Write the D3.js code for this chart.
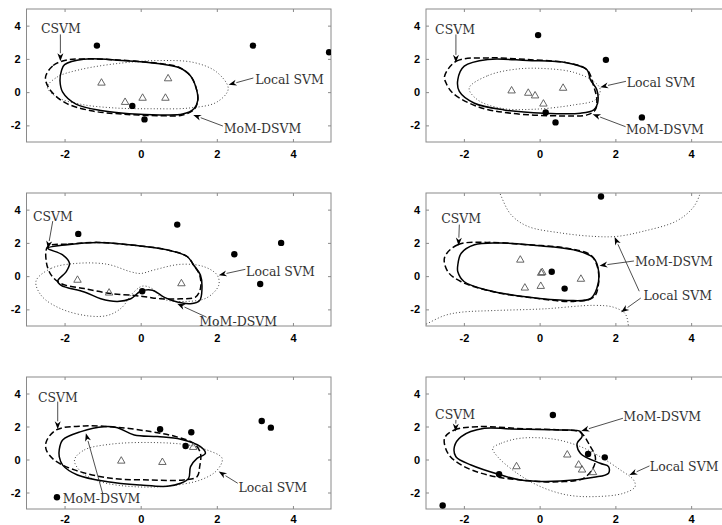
<!DOCTYPE html>
<html>
<head>
<meta charset="utf-8">
<script src="https://cdn.jsdelivr.net/npm/d3@7"></script>
<style>
  html, body { margin: 0; padding: 0; background: #fff; }
  svg { display: block; }
</style>
</head>
<body>
<svg id="chart" width="722" height="525"></svg>
<script>
// ---------------- DATA (data coordinates) ----------------
const xTicks = [-2, 0, 2, 4];
const yTicks = [-2, 0, 2, 4];
const xDomain = [-3, 5];
const yDomain = [-3, 5];

// Panel 1 (top-left)
const p1Circles = [[-1.15, 2.8], [2.95, 2.8], [4.95, 2.4], [-0.22, -0.83], [0.1, -1.64]];
const p1Triangles = [[-1.03, 0.55], [0.72, 0.81], [-0.41, -0.61], [0.05, -0.36], [0.65, -0.36]];
const p1CSVM = [[-2.5, 0.9], [-2.3, 1.6], [-2.0, 1.9], [-1.5, 2.0], [-0.5, 1.92], [0.5, 1.72], [1.0, 1.5], [1.3, 1.0], [1.45, 0.3], [1.5, -0.5], [1.4, -1.05], [1.1, -1.38], [0.5, -1.42], [-0.5, -1.32], [-1.3, -1.12], [-2.0, -0.62], [-2.4, 0.2]];
const p1MoM = [[-2.0, 1.65], [-1.5, 1.98], [-0.5, 1.9], [0.5, 1.7], [1.0, 1.48], [1.3, 1.0], [1.45, 0.3], [1.5, -0.5], [1.4, -1.0], [1.1, -1.32], [0.5, -1.37], [-0.3, -1.3], [-1.0, -1.12], [-1.7, -0.72], [-2.05, 0.0], [-2.12, 0.7], [-2.08, 1.3]];
const p1Local = [[-2.45, 0.3], [-2.2, 0.9], [-1.6, 1.35], [-0.5, 1.75], [0.5, 1.9], [1.4, 1.78], [2.0, 1.2], [2.3, 0.2], [2.0, -0.6], [1.3, -0.95], [0.3, -1.0], [-0.7, -0.95], [-1.6, -0.72], [-2.2, -0.3]];

// Panel 2 (top-right)
const p2Circles = [[-0.04, 3.43], [1.75, 1.94], [2.7, -1.52], [0.16, -1.23], [0.42, -1.82]];
const p2Triangles = [[-0.74, 0.08], [-0.3, -0.06], [-0.12, -0.22], [0.1, -0.71], [0.62, 0.24]];
const p2CSVM = [[-2.51, 0.95], [-2.2, 1.86], [-1.37, 2.06], [-0.32, 1.96], [0.73, 1.76], [1.25, 1.35], [1.43, 0.34], [1.51, -0.46], [1.47, -1.07], [1.25, -1.37], [0.55, -1.43], [-0.76, -1.27], [-1.64, -0.87], [-2.29, -0.06], [-2.47, 0.55]];
const p2MoM = [[-2.16, 0.75], [-1.99, 1.56], [-1.37, 1.96], [-0.32, 1.9], [0.73, 1.76], [1.25, 1.35], [1.34, 0.75], [1.51, 0.14], [1.53, -0.67], [1.43, -1.07], [1.08, -1.27], [0.11, -1.27], [-0.94, -1.07], [-1.72, -0.67], [-2.12, 0.04]];
const p2Local = [[-1.86, 0.24], [-1.37, 0.99], [-0.59, 1.39], [0.2, 1.41], [0.9, 1.19], [1.43, 0.65], [1.6, 0.14], [1.47, -0.46], [0.9, -0.77], [-0.15, -1.03], [-1.02, -0.97], [-1.64, -0.46]];

// Panel 3 (middle-left)
const p3Circles = [[-1.64, 2.54], [0.96, 3.1], [2.46, 1.32], [3.69, 2.0], [3.14, -0.47], [0.04, -0.91]];
const p3Triangles = [[-1.66, -0.24], [-0.83, -1.01], [1.07, -0.45]];
const p3CSVM = [[-2.44, 1.78], [-1.92, 1.92], [-1.13, 2.03], [-0.17, 1.85], [0.7, 1.58], [1.22, 1.18], [1.39, 0.67], [1.55, 0.06], [1.57, -0.75], [1.44, -1.26], [1.05, -1.36], [0.52, -1.36], [0.17, -1.26], [-0.17, -1.16], [-0.78, -1.05], [-1.48, -0.75], [-2.09, -0.45], [-2.35, 0.06], [-2.48, 0.87]];
const p3MoM = [[-2.44, 1.68], [-1.92, 1.89], [-1.13, 2.03], [-0.17, 1.85], [0.7, 1.58], [1.22, 1.18], [1.39, 0.67], [1.57, 0.06], [1.61, -0.75], [1.55, -1.46], [1.31, -1.66], [0.96, -1.56], [0.61, -1.26], [0.31, -0.85], [0.0, -0.91], [-0.26, -1.36], [-0.61, -1.52], [-1.05, -1.36], [-1.48, -0.95], [-2.09, -0.55], [-2.18, -0.3], [-1.96, 0.26], [-1.87, 0.77], [-2.05, 1.28]];
const p3Local = [[-2.75, -0.3], [-2.35, 0.47], [-1.66, 0.77], [-0.87, 0.71], [-0.26, 0.26], [0.0, 0.16], [0.35, 0.37], [1.05, 0.71], [1.66, 0.57], [2.01, 0.06], [2.05, -0.55], [1.74, -1.3], [1.22, -1.52], [0.6, -1.38], [0.3, -0.75], [0.05, -0.6], [-0.2, -1.0], [-0.5, -1.9], [-0.85, -2.35], [-1.35, -2.4], [-2.09, -1.97], [-2.6, -1.2]];

// Panel 4 (middle-right)
const p4Circles = [[1.62, 4.79], [0.32, 0.26], [0.66, -0.75]];
const p4Triangles = [[-0.51, 0.97], [0.07, 0.22], [0.04, 0.18], [-0.39, -0.71], [0.03, -0.61], [1.09, -0.18]];
const p4CSVM = [[-2.51, 1.12], [-2.16, 1.89], [-1.37, 2.03], [-0.32, 1.89], [0.73, 1.68], [1.34, 1.28], [1.51, 0.67], [1.56, -0.34], [1.43, -1.26], [0.9, -1.52], [-0.15, -1.32], [-1.2, -0.95], [-2.07, -0.34], [-2.42, 0.26]];
const p4MoM = [[-2.16, 0.67], [-2.07, 1.38], [-1.72, 1.89], [-1.02, 1.99], [-0.15, 1.85], [0.9, 1.58], [1.43, 1.08], [1.56, 0.26], [1.51, -0.75], [1.34, -1.36], [0.73, -1.46], [-0.32, -1.26], [-1.37, -0.85], [-1.99, -0.34], [-2.16, 0.26]];
const p4LocalUpper = [[-1.1, 5.3], [-1.02, 4.83], [-0.76, 3.71], [-0.32, 3.0], [0.55, 2.6], [1.43, 2.39], [2.04, 2.39], [2.74, 2.7], [3.61, 3.31], [4.05, 4.12], [4.23, 4.93], [4.25, 5.3]];
const p4LocalLower = [[-3.3, -3.2], [-2.99, -2.88], [-2.51, -2.37], [-2.07, -2.17], [-1.2, -2.07], [0.11, -1.97], [1.43, -1.76], [1.95, -1.87], [2.26, -2.27], [2.35, -3.08], [2.36, -3.3]];

// Panel 5 (bottom-left)
const p5Circles = [[0.51, 1.83], [1.33, 1.65], [1.18, 0.82], [3.18, 2.33], [3.42, 1.93], [-2.2, -2.29]];
const p5Triangles = [[-0.51, -0.09], [0.57, -0.17], [1.38, 0.74]];
const p5CSVM = [[-2.48, 1.08], [-2.22, 1.79], [-1.48, 2.03], [-0.61, 1.95], [0.26, 1.69], [0.87, 1.42], [1.39, 0.98], [1.57, 0.38], [1.55, -0.43], [1.48, -1.04], [1.13, -1.24], [0.26, -1.24], [-0.78, -1.14], [-1.74, -0.63], [-2.27, -0.03], [-2.48, 0.58]];
const p5MoM = [[-2.14, 0.58], [-2.05, 1.18], [-1.57, 1.69], [-0.96, 1.99], [-0.61, 1.93], [-0.17, 1.49], [0.44, 1.39], [1.05, 1.23], [1.57, 0.78], [1.7, 0.37], [1.48, 0.07], [1.31, -0.43], [1.26, -1.14], [1.05, -1.44], [0.7, -1.62], [0.0, -1.55], [-0.87, -1.35], [-1.66, -0.94], [-2.05, -0.34], [-2.14, 0.17]];
const p5Local = [[-1.74, -0.03], [-1.48, 0.58], [-0.78, 0.93], [0.26, 1.03], [1.22, 0.89], [1.74, 0.58], [2.14, 0.07], [2.01, -0.64], [1.57, -1.24], [0.7, -1.61], [-0.17, -1.65], [-1.05, -1.35], [-1.57, -0.74]];

// Panel 6 (bottom-right)
const p6Circles = [[0.35, 2.7], [1.28, 0.34], [1.72, 0.13], [-1.07, -0.89], [-2.56, -2.79]];
const p6Triangles = [[-0.61, -0.43], [0.73, 0.28], [1.03, -0.33], [1.12, -0.63], [1.41, -0.79]];
const p6CSVM = [[-2.51, 1.29], [-2.25, 1.79], [-1.64, 1.99], [-0.32, 1.85], [0.55, 1.79], [1.08, 1.63], [1.34, 0.78], [1.47, 0.17], [1.43, -0.43], [1.16, -1.14], [0.55, -1.35], [-0.32, -1.28], [-1.37, -0.94], [-2.07, -0.33], [-2.42, 0.37]];
const p6MoM = [[-2.25, 0.78], [-2.07, 1.39], [-1.46, 1.89], [-0.76, 1.85], [0.55, 1.79], [1.08, 1.69], [1.12, 1.39], [0.99, 0.98], [1.08, 0.37], [1.6, -0.23], [1.82, -0.43], [1.82, -0.83], [1.43, -1.08], [0.55, -1.31], [-0.5, -1.24], [-1.02, -0.94], [-1.81, -0.33], [-2.21, 0.17]];
const p6Local = [[-1.24, 0.68], [-1.02, 0.98], [-0.5, 1.29], [0.38, 1.23], [1.08, 0.78], [1.6, 0.17], [2.13, -0.63], [2.48, -1.24], [2.52, -1.65], [2.21, -2.05], [1.43, -2.25], [0.73, -2.15], [0.03, -1.65], [-0.59, -0.84], [-1.11, 0.17]];

// Annotations: label, text left x / center y, arrows [from, to] (data coords)
const p1Notes = [
  {label: "CSVM", x: -2.62, y: 3.82, arrows: [[[-2.11, 3.47], [-2.11, 1.86]]]},
  {label: "Local SVM", x: 3.01, y: 0.75, arrows: [[[2.96, 0.85], [2.31, 0.44]]]},
  {label: "MoM-DSVM", x: 2.18, y: -2.18, arrows: [[[2.16, -2.04], [1.38, -1.37]]]}
];
const p2Notes = [
  {label: "CSVM", x: -2.76, y: 3.78, arrows: [[[-2.21, 3.47], [-2.21, 1.76]]]},
  {label: "Local SVM", x: 2.30, y: 0.59, arrows: [[[2.28, 0.65], [1.60, 0.30]]]},
  {label: "MoM-DSVM", x: 2.28, y: -2.24, arrows: [[[2.27, -2.08], [1.40, -1.33]]]}
];
const p3Notes = [
  {label: "CSVM", x: -2.83, y: 3.61, arrows: [[[-2.31, 3.31], [-2.44, 1.64]]]},
  {label: "Local SVM", x: 2.77, y: 0.30, arrows: [[[2.75, 0.41], [2.05, 0.06]]]},
  {label: "MoM-DSVM", x: 1.54, y: -2.72, arrows: [[[1.73, -2.47], [0.96, -1.66]]]}
];
const p4Notes = [
  {label: "CSVM", x: -2.60, y: 3.45, arrows: [[[-2.12, 3.10], [-2.14, 1.83]]]},
  {label: "MoM-DSVM", x: 2.52, y: 0.87, arrows: [[[2.49, 0.91], [1.58, 0.63]]]},
  {label: "Local SVM", x: 2.74, y: -1.16, arrows: [[[2.63, -0.91], [1.98, 2.35]], [[2.67, -1.32], [2.15, -2.17]]]}
];
const p5Notes = [
  {label: "CSVM", x: -2.70, y: 3.77, arrows: [[[-2.18, 3.51], [-2.18, 1.83]]]},
  {label: "MoM-DSVM", x: -2.05, y: -2.35, arrows: [[[-1.00, -2.05], [-1.44, 1.59]]]},
  {label: "Local SVM", x: 2.57, y: -1.68, arrows: [[[2.55, -1.44], [2.05, -0.73]]]}
];
const p6Notes = [
  {label: "CSVM", x: -2.76, y: 2.70, arrows: [[[-2.21, 2.40], [-2.22, 1.69]]]},
  {label: "MoM-DSVM", x: 2.21, y: 2.60, arrows: [[[2.20, 2.50], [1.10, 1.73]]]},
  {label: "Local SVM", x: 2.91, y: -0.43, arrows: [[[2.90, -0.39], [2.37, -0.94]]]}
];

// ---------------- LAYOUT ----------------
const colRanges = [[26.5, 331], [426, 729]];
const rowRanges = [[9, 142], [193, 326], [377, 509]];
const rowPadding = [8.5, 8.5, 6];

const panels = [
  {col: 0, row: 0, circles: p1Circles, triangles: p1Triangles, csvm: p1CSVM, mom: p1MoM, local: [p1Local], localClosed: true, notes: p1Notes},
  {col: 1, row: 0, circles: p2Circles, triangles: p2Triangles, csvm: p2CSVM, mom: p2MoM, local: [p2Local], localClosed: true, notes: p2Notes},
  {col: 0, row: 1, circles: p3Circles, triangles: p3Triangles, csvm: p3CSVM, mom: p3MoM, local: [p3Local], localClosed: true, notes: p3Notes},
  {col: 1, row: 1, circles: p4Circles, triangles: p4Triangles, csvm: p4CSVM, mom: p4MoM, local: [p4LocalUpper, p4LocalLower], localClosed: false, notes: p4Notes},
  {col: 0, row: 2, circles: p5Circles, triangles: p5Triangles, csvm: p5CSVM, mom: p5MoM, local: [p5Local], localClosed: true, notes: p5Notes},
  {col: 1, row: 2, circles: p6Circles, triangles: p6Triangles, csvm: p6CSVM, mom: p6MoM, local: [p6Local], localClosed: true, notes: p6Notes}
];

const svg = d3.select("#chart");
const fmt = d => (d < 0 ? "-" : "") + Math.abs(d);

panels.forEach((p, i) => {
  const x = d3.scaleLinear().domain(xDomain).range(colRanges[p.col]);
  const y = d3.scaleLinear().domain(yDomain).range([rowRanges[p.row][1], rowRanges[p.row][0]]);
  const g = svg.append("g");
  const x0 = x.range()[0], x1 = x.range()[1], yTop = y.range()[1], yBot = y.range()[0];

  const clipId = "clip" + i;
  g.append("clipPath").attr("id", clipId).append("rect")
    .attr("x", x0).attr("y", yTop).attr("width", x1 - x0).attr("height", yBot - yTop);

  // axes
  const axCol = "#8a8a8a";
  const bottom = g.append("g").attr("transform", `translate(0,${yBot})`)
    .call(d3.axisBottom(x).tickValues(xTicks).tickFormat(fmt).tickSizeInner(-3).tickSizeOuter(0).tickPadding(rowPadding[p.row]));
  const left = g.append("g").attr("transform", `translate(${x0},0)`)
    .call(d3.axisLeft(y).tickValues(yTicks).tickFormat(fmt).tickSizeInner(-3).tickSizeOuter(0).tickPadding(6));
  const top = g.append("g").attr("transform", `translate(0,${yTop})`)
    .call(d3.axisTop(x).tickValues(xTicks).tickFormat("").tickSizeInner(-3).tickSizeOuter(0));
  const right = g.append("g").attr("transform", `translate(${x1},0)`)
    .call(d3.axisRight(y).tickValues(yTicks).tickFormat("").tickSizeInner(-3).tickSizeOuter(0));
  [bottom, left, top, right].forEach(a => {
    a.select(".domain").remove();
    a.selectAll("line").attr("stroke", axCol).attr("stroke-width", 1);
    a.selectAll("text").attr("fill", "#000").attr("font-family", "'Liberation Sans', Arial, sans-serif")
      .attr("font-size", 11).attr("font-weight", "bold");
  });
  g.append("rect").attr("x", x0).attr("y", yTop).attr("width", x1 - x0).attr("height", yBot - yTop)
    .attr("fill", "none").attr("stroke", axCol).attr("stroke-width", 1);

  const plot = g.append("g").attr("clip-path", `url(#${clipId})`);

  const closedLine = d3.line().x(d => x(d[0])).y(d => y(d[1])).curve(d3.curveCatmullRomClosed.alpha(0.5));
  const openLine = d3.line().x(d => x(d[0])).y(d => y(d[1])).curve(d3.curveCatmullRom.alpha(0.5));

  // Local SVM (dotted)
  p.local.forEach(arr => {
    plot.append("path").attr("d", (p.localClosed ? closedLine : openLine)(arr))
      .attr("fill", "none").attr("stroke", "#444").attr("stroke-width", 1)
      .attr("stroke-dasharray", "1,2.2");
  });
  // CSVM (dashed)
  plot.append("path").attr("d", closedLine(p.csvm))
    .attr("fill", "none").attr("stroke", "#000").attr("stroke-width", 1.5)
    .attr("stroke-dasharray", "6,3");
  // MoM-DSVM (solid)
  plot.append("path").attr("d", closedLine(p.mom))
    .attr("fill", "none").attr("stroke", "#000").attr("stroke-width", 1.5);

  // points
  plot.selectAll(".tri").data(p.triangles).join("path")
    .attr("transform", d => `translate(${x(d[0])},${y(d[1])})`)
    .attr("d", d3.symbol().type(d3.symbolTriangle).size(24)())
    .attr("fill", "none").attr("stroke", "#555").attr("stroke-width", 0.9);
  plot.selectAll(".dot").data(p.circles).join("circle")
    .attr("cx", d => x(d[0])).attr("cy", d => y(d[1])).attr("r", 3.2).attr("fill", "#000");

  // annotations
  p.notes.forEach(n => {
    n.arrows.forEach(a => {
      const fx = x(a[0][0]), fy = y(a[0][1]), tx = x(a[1][0]), ty = y(a[1][1]);
      const ang = Math.atan2(ty - fy, tx - fx);
      const L = 8, W = 3;
      const bx = tx - L * Math.cos(ang), by = ty - L * Math.sin(ang);
      g.append("line").attr("x1", fx).attr("y1", fy).attr("x2", bx).attr("y2", by)
        .attr("stroke", "#222").attr("stroke-width", 0.8);
      const px = -Math.sin(ang) * W, py = Math.cos(ang) * W;
      g.append("path")
        .attr("d", `M${tx},${ty}L${bx + px},${by + py}L${bx + 0.3 * L * Math.cos(ang)},${by + 0.3 * L * Math.sin(ang)}L${bx - px},${by - py}Z`)
        .attr("fill", "#000");
    });
    g.append("text").attr("x", x(n.x)).attr("y", y(n.y)).attr("dy", "0.36em")
      .attr("font-family", "'DejaVu Serif', serif").attr("font-size", 12.5)
      .attr("fill", "#333").text(n.label);
  });
});
</script>
</body>
</html>
